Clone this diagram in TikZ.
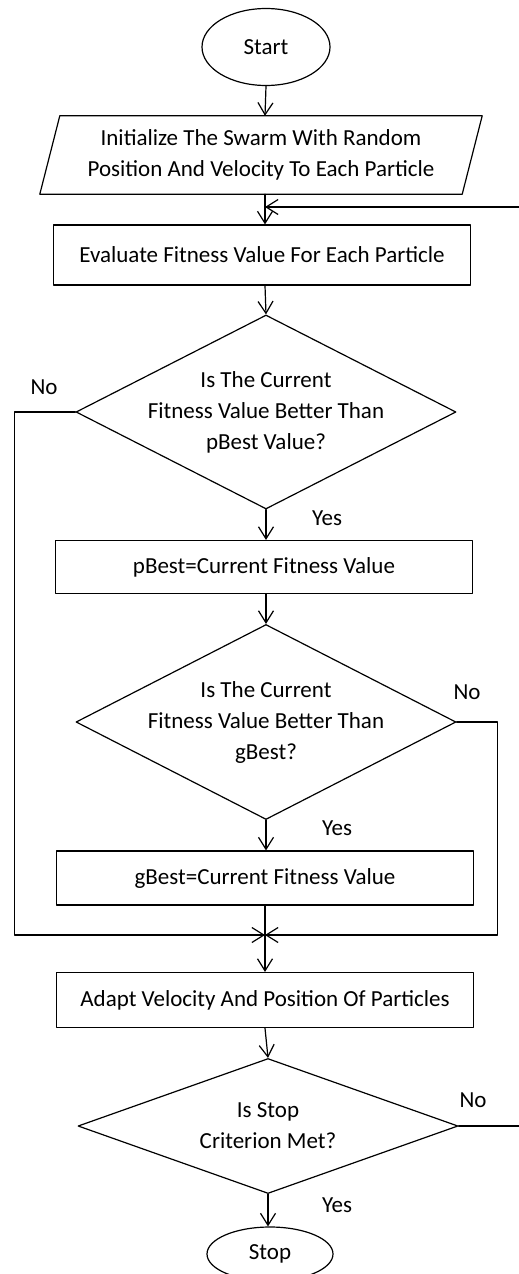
\documentclass[tikz,border=0pt]{standalone}
\usepackage{fontspec}
\setmainfont{Carlito}
\usetikzlibrary{arrows.meta,shapes.geometric}

\begin{document}
\begin{tikzpicture}[x=1pt,y=-1pt,>={Straight Barb[length=12pt,width=15pt]},line cap=round,line join=round,
  every node/.style={font=\fontsize{23}{31}\selectfont},
  flow/.style={->,line width=1.2pt},
  procbox/.style={draw,line width=1.2pt,rectangle,minimum width=417pt,minimum height=54pt,inner sep=0pt},
  decision/.style={draw,line width=1.2pt,diamond,minimum width=380pt,inner sep=0pt},
  terminal/.style={draw,line width=1.2pt,ellipse,minimum width=128pt,minimum height=77pt,inner sep=0pt},
  txt/.style={align=center,inner sep=0pt}]
\useasboundingbox (0,0) rectangle (519,1274);
\node[terminal] (start) at (266,47) {Start};
\node[minimum width=422pt,minimum height=78pt,inner sep=0pt,align=center] (init) at (261,155) {Initialize The Swarm With Random\\Position And Velocity To Each Particle};
\draw[line width=1.2pt] ([xshift=10pt]init.north west) -- ([xshift=10pt]init.north east) -- ([xshift=-10pt]init.south east) -- ([xshift=-10pt]init.south west) -- cycle;
\coordinate (back) at (265,207);
\node[procbox,minimum height=60pt] (eval) at (262,255) {Evaluate Fitness Value For Each Particle};
\node[decision,minimum height=194pt] (d1) at (266,412) {};
\node[txt] (d1txt) at (d1) {Is The Current\\Fitness Value Better Than\\pBest Value?};
\node[procbox,minimum height=53pt] (pbest) at (264,567) {pBest=Current Fitness Value};
\node[decision,minimum height=195pt] (d2) at (266,722) {};
\node[txt] (d2txt) at (d2) {Is The Current\\Fitness Value Better Than\\gBest?};
\node[procbox] (gbest) at (265,878) {gBest=Current Fitness Value};
\coordinate (join) at (265,935);
\node[procbox,minimum height=55pt] (adapt) at (265,1000) {Adapt Velocity And Position Of Particles};
\node[decision,minimum height=135pt] (d3) at (268,1126) {};
\node[txt] (d3txt) at (d3) {Is Stop\\Criterion Met?};
\node[terminal,minimum width=126pt,minimum height=54pt] (stop) at (270,1254) {Stop};
% main flow
\draw[flow] (start |- start.south) -- (back |- init.north);
\draw[flow] (back |- init.south) -- (back |- eval.north);
\draw[flow] (back |- eval.south) -- (d1.north);
\draw[flow] (d1.south) -- (d1.south |- pbest.north);
\draw[flow] (d1.south |- pbest.south) -- (d2.north);
\draw[flow] (d2.south) -- (d2.south |- gbest.north);
\draw[line width=1.2pt] (join |- gbest.south) -- (join);
\draw[flow] (join) -- (join |- adapt.north);
\draw[flow] (join |- adapt.south) -- (d3.north);
\draw[flow] (d3.south) -- (d3.south |- stop.north);
% branches
\draw[flow] (d1.west) -- ++(-61,0) |- (join);
\draw[flow] (d2.east) -- ++(41,0) |- (join);
\draw[flow] (d3.east) -- ++(80,0) |- (back);
\node (no1) at (44,387) {No};
\node (yes1) at (327,518) {Yes};
\node (no2) at (467,692) {No};
\node (yes2) at (337,828) {Yes};
\node (no3) at (473,1100) {No};
\node (yes3) at (337,1205) {Yes};
\end{tikzpicture}
\end{document}
